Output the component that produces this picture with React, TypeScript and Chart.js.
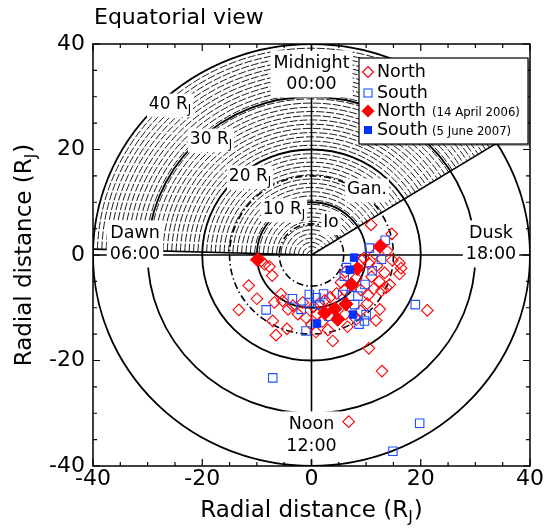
import { useEffect, useRef } from 'react';
import { Chart, registerables } from 'chart.js';

Chart.register(...registerables);

const FONT = "'DejaVu Sans', 'Liberation Sans', sans-serif";

// ---- data (R_J) ----
const northOpen: [number, number][] = [
  [10.9, 5.7], [14.7, 4.0], [13.8, 0.8], [11.6, 0.2], [9.6, -0.6],
  [16.1, -1.5], [16.4, -2.5], [16.1, -3.6], [14.8, -1.0],
  [12.0, -2.0], [10.5, -1.6], [9.2, -1.0], [13.4, -3.4], [11.0, -4.1], [12.4, -5.0], [14.3, -5.6], [12.8, -6.8], [13.7, -6.2], [11.4, -6.4], [10.4, -7.6], [9.0, -6.6], [8.2, -4.4], [6.2, -3.2], [5.4, -5.2],
  [12.5, -10.3], [11.8, -12.4], [10.2, -9.2], [9.0, -10.6],
  [6.0, -6.6], [4.6, -7.3], [3.4, -8.0], [2.4, -8.6], [1.4, -9.2], [0.4, -9.8], [3.0, -10.6], [1.0, -11.2], [-1.0, -11.9], [0.0, -13.2], [2.0, -12.6], [6.2, -11.2], [8.2, -12.2], [6.6, -13.6], [3.0, -14.2], [0.8, -14.6],
  [3.9, -16.3], [10.5, -17.7], [12.9, -22.0], [6.8, -31.6], [21.2, -10.5],
  [-9.2, -1.1], [-8.6, -1.8], [-7.7, -2.2], [-7.2, -3.9], [-11.5, -5.8], [-10.0, -8.3], [-13.3, -10.4], [-6.8, -9.0], [-5.3, -8.7], [-4.3, -10.3], [-5.6, -7.4], [-3.4, -9.6], [-7.1, -12.5], [-4.5, -14.0], [-6.5, -15.2], [-2.5, -11.2], [-1.6, -9.0],
];
const southOpen: [number, number][] = [
  [13.5, 2.8], [10.6, 1.3], [12.8, -0.8], [11.1, -3.0], [9.8, -5.6], [6.4, -2.4], [6.0, -4.0], [5.7, -7.5], [8.5, -7.8], [7.9, -9.4], [10.0, -11.3], [9.7, -12.5], [8.7, -13.1], [7.4, -6.1], [19.0, -9.4], [19.8, -31.9], [14.9, -37.2],
  [-0.4, -7.5], [0.9, -8.1], [1.5, -9.4], [-1.0, -14.4], [-1.9, -10.3], [-3.5, -8.3], [-8.3, -10.4], [-7.1, -23.3], [3.2, -11.6], [-0.4, -9.0], [2.2, -7.4],
];
const northApril2006: [number, number][] = [
  [-9.9, -0.9], [12.6, 1.7], [8.4, -2.6], [7.3, -5.6], [6.3, -9.3], [4.3, -10.2], [2.4, -11.0], [4.8, -12.2],
];
const southJune2007: [number, number][] = [
  [7.8, -0.5], [7.0, -2.8], [7.6, -11.3], [1.0, -13.0],
];

const axisMin = -40;
const axisMax = 40;
const majorStep = 20;
const minorStep = 5;
const ringRadii = [10, 20, 30, 40];
const moonOrbits = [5.9, 15];
const sectorAngles = [32, 178.4]; // degrees, hatched (night) sector
const hatchStep = 0.8;

const RED = 'rgb(255,0,0)';
const BLUE = 'rgb(30,80,255)';
const BLUE_FILL = 'rgb(0,50,255)';

function richWidth(ctx: CanvasRenderingContext2D, main: string, sub: string | undefined, size: number) {
  ctx.font = `${size}px ${FONT}`;
  let w = ctx.measureText(main).width;
  if (sub) {
    ctx.font = `${size * 0.68}px ${FONT}`;
    w += ctx.measureText(sub).width;
  }
  return w;
}

// draws main + subscript (+ optional tail in main font), centred at cx
function drawRich(ctx: CanvasRenderingContext2D, main: string, sub: string | undefined, cx: number, cy: number, size: number, tail = '') {
  let w = richWidth(ctx, main, sub, size);
  ctx.font = `${size}px ${FONT}`;
  const tw = tail ? ctx.measureText(tail).width + 1 : 0;
  w += tw;
  const x0 = cx - w / 2;
  ctx.textAlign = 'left';
  ctx.textBaseline = 'middle';
  ctx.fillStyle = '#000';
  ctx.font = `${size}px ${FONT}`;
  ctx.fillText(main, x0, cy);
  const mw = ctx.measureText(main).width;
  let sw = 0;
  if (sub) {
    ctx.font = `${size * 0.68}px ${FONT}`;
    sw = ctx.measureText(sub).width;
    ctx.fillText(sub, x0 + mw, cy + size * 0.32);
  }
  if (tail) {
    ctx.font = `${size}px ${FONT}`;
    ctx.fillText(tail, x0 + mw + sw + 1, cy);
  }
}

function boxedLabel(ctx: CanvasRenderingContext2D, lines: [string, string?][], cx: number, cy: number, lineH: number, size: number, pad: number) {
  let maxW = 0;
  for (const [m, s] of lines) maxW = Math.max(maxW, richWidth(ctx, m, s, size));
  const top = cy - size * 0.55 - pad;
  const bottom = cy + (lines.length - 1) * lineH + size * 0.6 + pad;
  ctx.fillStyle = '#fff';
  ctx.fillRect(cx - maxW / 2 - pad, top, maxW + 2 * pad, bottom - top);
  lines.forEach(([m, s], i) => drawRich(ctx, m, s, cx, cy + i * lineH, size));
}

const overlay = {
  id: 'overlay',
  beforeDatasetsDraw(chart: any) {
    const { ctx, chartArea: a, scales } = chart;
    const x = scales.x, y = scales.y;
    const cx = x.getPixelForValue(0), cy = y.getPixelForValue(0);
    const sx = x.getPixelForValue(1) - cx;
    const sy = cy - y.getPixelForValue(1);
    const px = (v: number) => x.getPixelForValue(v);
    const py = (v: number) => y.getPixelForValue(v);
    ctx.save();
    ctx.beginPath();
    ctx.rect(a.left, a.top, a.right - a.left, a.bottom - a.top);
    ctx.clip();
    ctx.strokeStyle = '#000';

    // hatched sector: dashed concentric arcs
    const t1 = (-sectorAngles[1] * Math.PI) / 180;
    const t2 = (-sectorAngles[0] * Math.PI) / 180;
    ctx.lineWidth = 0.9;
    ctx.setLineDash([8, 2]);
    for (let r = hatchStep; r < axisMax - 0.01; r += hatchStep) {
      ctx.beginPath();
      ctx.ellipse(cx, cy, r * sx, r * sy, 0, t1, t2, false);
      ctx.stroke();
    }

    // solid rings
    ctx.setLineDash([]);
    ctx.lineWidth = 1.8;
    for (const r of ringRadii) {
      ctx.beginPath();
      ctx.ellipse(cx, cy, r * sx, r * sy, 0, 0, Math.PI * 2);
      ctx.stroke();
    }
    // moon orbits (dash-dot)
    ctx.lineWidth = 1.6;
    ctx.setLineDash([7, 3, 1.5, 3]);
    for (const r of moonOrbits) {
      ctx.beginPath();
      ctx.ellipse(cx, cy, r * sx, r * sy, 0, 0, Math.PI * 2);
      ctx.stroke();
    }
    ctx.setLineDash([]);

    // axes lines through origin
    ctx.lineWidth = 1.6;
    ctx.beginPath();
    ctx.moveTo(px(axisMin), cy); ctx.lineTo(px(axisMax), cy);
    ctx.moveTo(cx, py(axisMin)); ctx.lineTo(cx, py(axisMax));
    for (const ang of sectorAngles) {
      const th = (ang * Math.PI) / 180;
      ctx.moveTo(cx, cy);
      ctx.lineTo(cx + 40 * sx * Math.cos(th), cy - 40 * sy * Math.sin(th));
    }
    ctx.stroke();

    // labels
    const fs = 17.5;
    boxedLabel(ctx, [['Midnight'], ['00:00']], cx, 63, 21, fs, 3);
    boxedLabel(ctx, [['Dawn'], ['06:00']], 135, 233, 21, fs, 3);
    boxedLabel(ctx, [['Dusk'], ['18:00']], 491, 233, 21, fs, 3);
    boxedLabel(ctx, [['Noon'], ['12:00']], cx, 424, 22, fs, 3);
    boxedLabel(ctx, [['40 R', 'J']], 170, 105, 0, 17, 2);
    boxedLabel(ctx, [['30 R', 'J']], 211, 140, 0, 17, 2);
    boxedLabel(ctx, [['20 R', 'J']], 250, 177, 0, 17, 2);
    boxedLabel(ctx, [['10 R', 'J']], 284, 210, 0, 17, 2);
    boxedLabel(ctx, [['Io']], 331, 223, 0, 17, 2);
    boxedLabel(ctx, [['Gan.']], 367, 190, 0, 17, 2);
    ctx.restore();
  },
  afterDatasetsDraw(chart: any) {
    const { ctx, chartArea: a, scales } = chart;
    const x = scales.x, y = scales.y;
    ctx.save();
    // frame
    ctx.strokeStyle = '#000';
    ctx.lineWidth = 1.5;
    ctx.strokeRect(a.left, a.top, a.right - a.left, a.bottom - a.top);
    ctx.lineWidth = 1.2;
    ctx.beginPath();
    for (let v = axisMin; v <= axisMax; v += minorStep) {
      const len = v % majorStep === 0 ? 7 : 4;
      const xp = x.getPixelForValue(v);
      const yp = y.getPixelForValue(v);
      ctx.moveTo(xp, a.bottom); ctx.lineTo(xp, a.bottom - len);
      ctx.moveTo(xp, a.top); ctx.lineTo(xp, a.top + len);
      ctx.moveTo(a.left, yp); ctx.lineTo(a.left + len, yp);
      ctx.moveTo(a.right, yp); ctx.lineTo(a.right - len, yp);
    }
    ctx.stroke();

    // legend
    const lx = 359, ly = 58, lw = 169, lh = 86;
    ctx.fillStyle = 'rgba(0,0,0,0.35)';
    ctx.fillRect(lx + 2, ly + 2, lw, lh);
    ctx.fillStyle = '#fff';
    ctx.fillRect(lx, ly, lw, lh);
    ctx.strokeStyle = '#000';
    ctx.lineWidth = 1.2;
    ctx.strokeRect(lx, ly, lw, lh);
    const mx = 368;
    const rows = [72, 93, 111, 130];
    ctx.lineWidth = 1.1;
    ctx.strokeStyle = RED;
    ctx.beginPath();
    ctx.moveTo(mx, rows[0] - 5.5); ctx.lineTo(mx + 5.5, rows[0]); ctx.lineTo(mx, rows[0] + 5.5); ctx.lineTo(mx - 5.5, rows[0]); ctx.closePath();
    ctx.stroke();
    ctx.strokeStyle = BLUE;
    ctx.strokeRect(mx - 4, rows[1] - 4, 8, 8);
    ctx.fillStyle = RED;
    ctx.beginPath();
    ctx.moveTo(mx, rows[2] - 6.5); ctx.lineTo(mx + 6.5, rows[2]); ctx.lineTo(mx, rows[2] + 6.5); ctx.lineTo(mx - 6.5, rows[2]); ctx.closePath();
    ctx.fill();
    ctx.fillStyle = BLUE_FILL;
    ctx.fillRect(mx - 4, rows[3] - 4, 8, 8);

    ctx.fillStyle = '#000';
    ctx.textAlign = 'left';
    ctx.textBaseline = 'middle';
    ctx.font = `17.5px ${FONT}`;
    ctx.fillText('North', 377, rows[0]);
    ctx.fillText('South', 377, rows[1]);
    ctx.fillText('North', 377, rows[2]);
    ctx.fillText('South', 377, rows[3]);
    ctx.font = `11.7px ${FONT}`;
    ctx.fillText('(14 April 2006)', 432, rows[2] + 2);
    ctx.fillText('(5 June 2007)', 432, rows[3] + 2);
    ctx.restore();
  },
  afterDraw(chart: any) {
    const { ctx, chartArea: a } = chart;
    ctx.save();
    ctx.fillStyle = '#000';
    ctx.textAlign = 'left';
    ctx.textBaseline = 'middle';
    ctx.font = `22px ${FONT}`;
    ctx.fillText('Equatorial view', 94, 18);
    drawRich(ctx, 'Radial distance (R', 'J', (a.left + a.right) / 2, 511, 23, ')');
    ctx.translate(25, (a.top + a.bottom) / 2);
    ctx.rotate(-Math.PI / 2);
    drawRich(ctx, 'Radial distance (R', 'J', 0, 0, 23, ')');
    ctx.restore();
  },
};

export default function App() {
  const ref = useRef<HTMLCanvasElement>(null);
  useEffect(() => {
    if (!ref.current) return;
    const toPts = (arr: [number, number][]) => arr.map(([x, y]) => ({ x, y }));
    const chart = new Chart(ref.current, {
      type: 'scatter',
      data: {
        datasets: [
          { label: 'South (5 June 2007)', data: toPts(southJune2007), order: 0, pointStyle: 'rect', pointRadius: 5.3, backgroundColor: BLUE_FILL, borderColor: BLUE_FILL, borderWidth: 1 },
          { label: 'North (14 April 2006)', data: toPts(northApril2006), order: 1, pointStyle: 'rectRot', pointRadius: 7, backgroundColor: RED, borderColor: RED, borderWidth: 1 },
          { label: 'South', data: toPts(southOpen), order: 2, pointStyle: 'rect', pointRadius: 6, backgroundColor: 'rgba(0,0,0,0)', borderColor: BLUE, borderWidth: 1.1 },
          { label: 'North', data: toPts(northOpen), order: 3, pointStyle: 'rectRot', pointRadius: 5.8, backgroundColor: 'rgba(0,0,0,0)', borderColor: RED, borderWidth: 1.1 },
        ],
      },
      options: {
        animation: false,
        responsive: true,
        maintainAspectRatio: false,
        layout: { padding: { left: 0, right: 14, top: 44, bottom: 0 } },
        plugins: { legend: { display: false }, tooltip: { enabled: false } },
        scales: {
          x: {
            type: 'linear', min: axisMin, max: axisMax, position: 'bottom',
            ticks: { stepSize: majorStep, font: { family: FONT, size: 22 }, color: '#000', padding: 0, maxRotation: 0, autoSkip: false },
            grid: { display: false, drawTicks: false }, border: { display: false },
            afterFit: (s: any) => { s.height = 63; },
          },
          y: {
            type: 'linear', min: axisMin, max: axisMax, position: 'left',
            ticks: { stepSize: majorStep, font: { family: FONT, size: 22 }, color: '#000', padding: 8, autoSkip: false },
            grid: { display: false, drawTicks: false }, border: { display: false },
            afterFit: (s: any) => { s.width = 93; },
          },
        },
      },
      plugins: [overlay],
    } as any);
    return () => chart.destroy();
  }, []);
  return (
    <div style={{ position: 'fixed', left: 0, top: 0, width: 544, height: 529, background: '#fff' }}>
      <canvas ref={ref} />
    </div>
  );
}
